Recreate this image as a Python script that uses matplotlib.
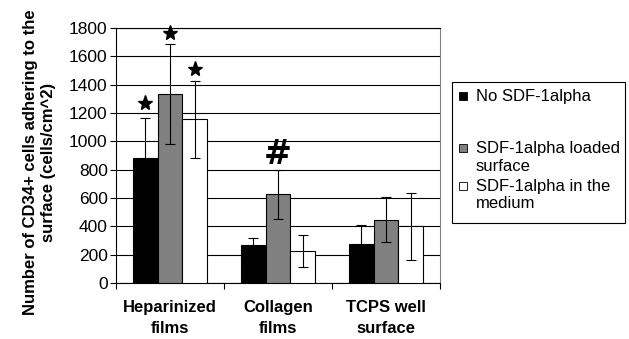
import numpy as np
import matplotlib
matplotlib.use('Agg')
import matplotlib.pyplot as plt
from matplotlib.patches import Rectangle

plt.rcParams['font.family'] = ['Liberation Sans', 'DejaVu Sans']

categories = ['Heparinized\nfilms', 'Collagen\nfilms', 'TCPS well\nsurface']
series_labels = ['No SDF-1alpha', 'SDF-1alpha loaded\nsurface', 'SDF-1alpha in the\nmedium']
series_colors = ['#000000', '#808080', '#ffffff']

no_sdf = [885, 270, 272]
loaded = [1335, 625, 448]
medium = [1155, 225, 400]

no_sdf_err = [280, 45, 135]
loaded_err = [355, 170, 160]
medium_err = [270, 112, 235]

# significance marks: (group, series, y value)
stars = [(0, 0, 1270), (0, 1, 1765), (0, 2, 1510)]
hashes = [(1, 1, 905)]

fig = plt.figure(figsize=(6.29, 3.39), dpi=100)
ax = fig.add_axes([116 / 629, 1 - 283 / 339, 324 / 629, 255 / 339])

x = np.arange(len(categories))
width = 0.227
values = [no_sdf, loaded, medium]
errors = [no_sdf_err, loaded_err, medium_err]
offsets = [-width, 0, width]

for vals, errs, off, col in zip(values, errors, offsets, series_colors):
    ax.bar(x + off, vals, width, color=col, edgecolor='black', linewidth=0.8, zorder=3)
    ax.errorbar(x + off, vals, yerr=errs, fmt='none', ecolor='black',
                elinewidth=0.8, capsize=3.5, capthick=0.8, zorder=4)

for g, s, yv in stars:
    ax.plot(x[g] + offsets[s], yv, marker='*', color='black', markersize=11,
            clip_on=False, zorder=5)
for g, s, yv in hashes:
    ax.text(x[g] + offsets[s], yv, '#', ha='center', va='center',
            fontsize=24, fontweight='heavy', family='DejaVu Sans', zorder=5)

ax.set_xlim(-0.5, 2.5)
ax.set_ylim(0, 1800)
ax.set_yticks(np.arange(0, 1801, 200))
ax.tick_params(axis='y', labelsize=12.5, length=4, width=0.8, direction='out', pad=2)
ax.set_xticks(x)
ax.set_xticklabels(categories, fontsize=12, fontweight='bold', linespacing=1.5)
ax.set_xticks(np.arange(-0.5, 2.6, 1), minor=True)
ax.tick_params(axis='x', which='major', length=0, pad=12)
ax.tick_params(axis='x', which='minor', length=4, width=0.8, direction='out')
ax.grid(axis='y', color='black', linewidth=0.8, zorder=0)
ax.set_axisbelow(True)
for sp in ['left', 'bottom', 'top']:
    ax.spines[sp].set_linewidth(0.8)
ax.spines['right'].set_color('#808080')
ax.spines['right'].set_linewidth(0.8)

ax.set_ylabel('Number of CD34+ cells adhering to the\nsurface (cells/cm^2)',
              fontsize=12, fontweight='bold', linespacing=1.25)
ax.yaxis.set_label_coords((56 - 116) / 324, (283 - 162) / 255)

# legend box
fig.patches.append(Rectangle((452 / 629, 1 - 223 / 339), 173 / 629, 141 / 339,
                             transform=fig.transFigure, facecolor='white',
                             edgecolor='black', linewidth=0.8))
handle_y = [96, 148, 186]
text_y = [96, 157.5, 195]
for lab, col, hy, ty in zip(series_labels, series_colors, handle_y, text_y):
    fig.patches.append(Rectangle((459 / 629, 1 - (hy + 4) / 339), 8 / 629, 8 / 339,
                                 transform=fig.transFigure, facecolor=col,
                                 edgecolor='black', linewidth=0.6))
    fig.text(476 / 629, 1 - ty / 339, lab, fontsize=12, ha='left', va='center',
             linespacing=1.2)

fig.savefig('out.png', dpi=100)
